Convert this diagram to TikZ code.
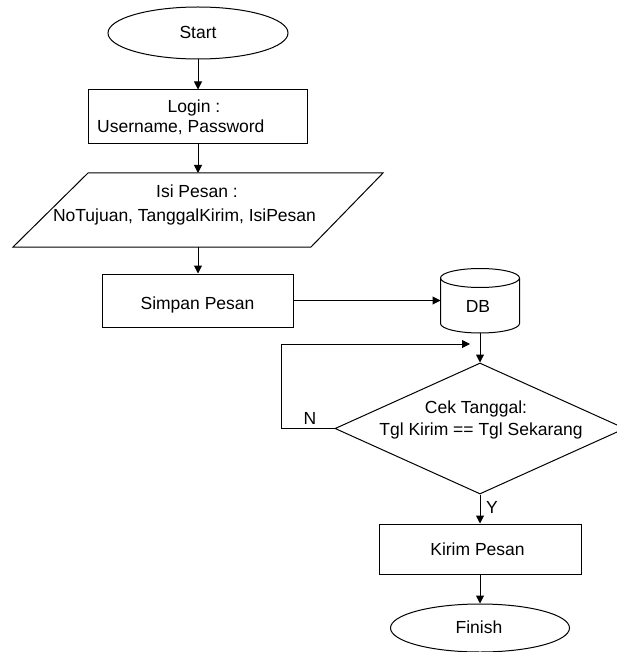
\documentclass[tikz,border=0pt]{standalone}
\usepackage{fontspec}
\setmainfont{Liberation Sans}
\usetikzlibrary{shapes.geometric,arrows.meta}
\begin{document}
\begin{tikzpicture}[x=1pt,y=-1pt,
  box/.style={draw,line width=1pt,rectangle,inner sep=0pt},
  term/.style={draw,line width=1pt,ellipse,inner sep=0pt},
  ghost/.style={rectangle,inner sep=0pt,outer sep=0pt},
  lbl/.style={font=\fontsize{17.5}{21}\selectfont,inner sep=0pt},
  arr/.style={line width=1pt,-{Triangle[length=8pt,width=8pt]}},
  ln/.style={line width=1pt}]
\fill[white] (0,0) rectangle (617,652);
\clip (0,0) rectangle (617,652);
% shapes
\node[term,minimum width=180pt,minimum height=52pt] (start) at (198,33) {};
\node[box,minimum width=219pt,minimum height=54pt] (login) at (198,117) {};
\draw[ln] (88,173) -- (383,173) -- (311,247) -- (13,247) -- cycle;
\node[ghost,minimum width=100pt,minimum height=74pt] (isi) at (198,210) {};
\node[box,minimum width=191pt,minimum height=53pt] (simpan) at (198,300.5) {};
\draw[ln] (440.5,278) -- (440.5,323.5) arc[start angle=180,end angle=0,x radius=39.5,y radius=9.5] -- (519.5,278);
\draw[ln] (480,278) ellipse [x radius=39.5,y radius=9.5];
\node[ghost,minimum width=79pt,minimum height=65pt] (db) at (480,300.5) {};
\node[draw,line width=1pt,diamond,inner sep=0pt,minimum width=290pt,minimum height=131pt] (dia) at (480,428.5) {};
\node[box,minimum width=202pt,minimum height=50pt] (kirim) at (480,549) {};
\node[term,minimum width=179pt,minimum height=48pt] (finish) at (480,628) {};
% texts
\node[lbl,anchor=base] (tstart) at (198,39) {Start};
\node[lbl,anchor=base] (tlogin) at (194,113) {Login :};
\node[lbl,anchor=base west] (tuser) at (97,133) {Username, Password};
\node[lbl,anchor=base] (tisi) at (197,198) {Isi Pesan :};
\node[lbl,anchor=base] (tfields) at (184.5,221) {NoTujuan, TanggalKirim, IsiPesan};
\node[lbl,anchor=base] (tsimpan) at (197.5,309) {Simpan Pesan};
\node[lbl,anchor=base] (tdb) at (478,312) {DB};
\node[lbl,anchor=base] (tcek) at (476,413) {Cek Tanggal:};
\node[lbl,anchor=base] (tcond) at (481,435) {Tgl Kirim == Tgl Sekarang};
\node[lbl,anchor=base] (tn) at (310,424) {N};
\node[lbl,anchor=base] (ty) at (492,513) {Y};
\node[lbl,anchor=base] (tkirim) at (477.5,555) {Kirim Pesan};
\node[lbl,anchor=base] (tfinish) at (479,633) {Finish};
% connectors
\draw[arr] (start.south) -- (login.north);
\draw[arr] (login.south) -- (isi.north);
\draw[arr] (isi.south) -- (simpan.north);
\draw[arr] (simpan.east) -- (simpan.east -| db.west);
\draw[arr] (db.south) -- (dia.north);
\draw[arr] (dia.south) -- (kirim.north);
\draw[arr] (kirim.south) -- (finish.north);
\coordinate (loopL) at (281,344);
\coordinate (loopE) at (470,344);
\draw[arr] (dia.west) -| (loopL) -- (loopE);
\end{tikzpicture}
\end{document}
